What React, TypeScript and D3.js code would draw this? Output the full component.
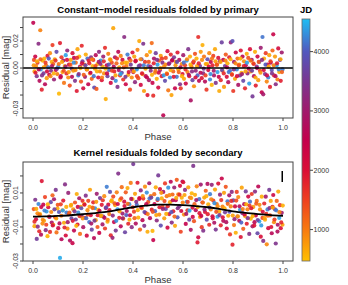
import React from "react";
import * as d3 from "d3";

const phaseTicks = [0, 0.2, 0.4, 0.6, 0.8, 1.0];
const topResidTicks = [-0.03, -0.02, -0.01, 0, 0.01, 0.02, 0.03];
const topResidLabels = [0.02, 0, -0.03];
const botResidTicks = [-0.03, -0.02, -0.01, 0, 0.01, 0.02];
const botResidLabels = [0.01, -0.01, -0.03];
const jdTicks = [1000, 2000, 3000, 4000];

// colour ramp used for JD (bar + points)
const jdStops = [470, 1000, 1500, 2000, 2500, 3000, 3500, 4000, 4550];
const jdColors = ["#FFC000", "#F77A10", "#EE4020", "#DA0E36", "#C4004C", "#A01A6C", "#7A3690", "#5258BE", "#1EBEF4"];

// primary fold: phase (x0.001), residual (x1e-4 mag), JD
const primPhase = [
  1, 4, 6, 9, 12, 15, 18, 22, 26, 29, 31, 35, 38,
  42, 45, 48, 52, 55, 58, 61, 65, 68, 72, 75, 78,
  81, 84, 87, 91, 94, 97, 101, 104, 108, 111, 114, 118,
  121, 124, 127, 131, 134, 137, 141, 144, 147, 151, 155, 158,
  161, 164, 168, 171, 175, 178, 181, 185, 188, 192, 195, 198,
  201, 205, 208, 211, 215, 218, 221, 225, 228, 232, 235, 238,
  241, 245, 248, 251, 254, 258, 261, 264, 268, 271, 275, 278,
  281, 284, 288, 291, 295, 298, 301, 304, 308, 311, 315, 318,
  321, 325, 328, 331, 334, 338, 341, 345, 348, 351, 355, 358,
  361, 365, 368, 371, 374, 378, 381, 385, 388, 391, 395, 398,
  401, 405, 408, 411, 415, 418, 421, 425, 428, 431, 434, 438,
  441, 444, 448, 451, 455, 458, 461, 464, 468, 471, 475, 478,
  481, 484, 488, 491, 495, 498, 501, 504, 508, 511, 515, 518,
  521, 524, 528, 531, 535, 538, 541, 545, 548, 551, 554, 558,
  561, 564, 568, 571, 575, 578, 581, 585, 588, 591, 595, 598,
  601, 604, 608, 611, 615, 618, 621, 625, 628, 631, 634, 638,
  641, 644, 648, 651, 654, 658, 661, 664, 668, 671, 675, 678,
  681, 684, 688, 691, 694, 698, 701, 705, 708, 711, 715, 718,
  721, 724, 728, 731, 735, 738, 741, 745, 748, 751, 755, 758,
  761, 764, 768, 771, 775, 778, 781, 785, 788, 791, 795, 798,
  801, 804, 808, 811, 815, 818, 821, 825, 828, 831, 834, 838,
  841, 844, 848, 851, 855, 858, 861, 865, 868, 871, 875, 878,
  881, 884, 888, 891, 895, 898, 901, 905, 908, 911, 915, 918,
  921, 924, 928, 931, 935, 938, 941, 945, 948, 951, 955, 958,
  961, 964, 968, 971, 975, 978, 981, 985, 988, 991, 995, 998,
  // dense core
  3, 10, 16, 23, 30, 36, 43, 50, 56, 63,
  70, 76, 83, 90, 96, 103, 110, 116, 123, 130,
  136, 143, 150, 156, 163, 170, 176, 183, 190, 196,
  203, 210, 216, 223, 230, 236, 243, 250, 256, 263,
  270, 276, 283, 290, 296, 303, 310, 316, 323, 330,
  336, 343, 350, 356, 363, 370, 376, 383, 390, 396,
  403, 410, 416, 423, 430, 436, 443, 450, 456, 463,
  470, 476, 483, 490, 496, 503, 510, 516, 523, 530,
  536, 543, 550, 556, 563, 570, 576, 583, 590, 596,
  603, 610, 616, 623, 630, 636, 643, 650, 656, 663,
  670, 676, 683, 690, 696, 703, 710, 716, 723, 730,
  736, 743, 750, 756, 763, 770, 776, 783, 790, 796,
  803, 810, 816, 823, 830, 836, 843, 850, 856, 863,
  870, 876, 883, 890, 896, 903, 910, 916, 923, 930,
  936, 943, 950, 956, 963, 970, 976, 983, 990, 996,
];
const primResid = [
  335, 60, -25, 85, 15, -60, 40, 180, -95, 280, -10, -160, 55,
  -40, 70, -120, 20, -75, 90, 5, -50, 110, -20, 45, 170,
  30, -85, 65, -15, 120, -45, 10, -190, 185, -60, 80, -30,
  55, -110, 15, 95, -40, 130, -70, 25, -130, 60, -5, 110,
  -20, 75, -95, 40, -170, 140, -55, 85, 10, -100, 165, 50,
  -150, 25, -65, 100, -10, 70, -120, 35, -40, 80, -80, 15,
  60, -145, -5, 95, -155, 30, -70, 120, -25, 55, -90, 10,
  85, -40, 150, -230, 20, -60, 105, -15, 65, -110, 40, -75,
  295, -25, 80, -95, 35, -140, 120, 5, -55, 90, -35, 60,
  -85, 230, 40, -120, 15, 100, -50, 70, -160, 25, -70, 115,
  -30, 85, -105, 55, -10, 135, -75, 200, 20, -125, 65, -45,
  180, -170, 45, -60, 95, -200, 15, -90, 120, -20, 185, -110,
  -205, 70, -35, 110, -80, 25, -145, 55, -15, 90, -60, 40,
  -350, 10, -95, 75, -40, 125, -165, 35, -70, 100, -200, 60,
  -25, 80, -150, 45, -65, 115, -10, 60, -120, -150, 30, -45,
  95, -80, 20, -115, 55, -30, 140, -60, 85, -240, 10, -90,
  40, -135, 105, -20, 70, -55, 230, -95, 15, 120, -75, 170,
  -40, 85, -100, 30, -160, 65, -15, 110, -85, 45, -125, 20,
  90, -55, 140, -110, 25, -30, 75, -170, 50, -90, 190, -20,
  60, -140, 15, 100, -65, 35, -105, 80, -20, 190, -45, 200,
  -170, 45, -80, 115, -10, 70, -125, 25, -55, 130, -35, 85,
  -95, 50, -150, 20, 105, -40, 75, -115, 140, -25, 60, -210,
  35, -60, 120, -130, 10, 85, -90, 45, -20, 150, -180, 230,
  -195, 70, -45, 110, -100, 25, -70, 95, -140, 40, -15, 130,
  250, -55, 85, -120, 20, -85, 145, -30, 60, -95, 115, -10,
  // dense core
  20, -35, 50, -10, 65, -55, 5, 40, -25, 70,
  -60, 15, -40, 55, -5, 30, -70, 45, -20, 10,
  60, -30, 25, -65, 40, -15, 75, -45, 0, 35,
  -50, 20, -10, 55, -35, 65, -60, 15, -25, 45,
  30, -70, 50, -5, -40, 25, 60, -20, 10, -55,
  70, -15, -45, 35, 5, -65, 40, -30, 55, -10,
  -25, 50, -60, 15, 65, -40, 20, -5, -70, 45,
  10, -50, 35, -20, 60, -35, 0, 70, -55, 25,
  -45, 30, -15, 55, -65, 20, 45, -30, 5, -60,
  40, -10, 65, -50, 25, -25, 50, -70, 15, 35,
  -35, 60, -5, -55, 30, 10, -45, 70, -20, 50,
  25, -65, 45, -15, -40, 55, 5, -30, 65, -50,
  -10, 35, -60, 20, 70, -45, 15, -25, 40, -5,
  55, -20, 30, -70, 0, 45, -35, 60, -15, 25,
  -55, 10, 50, -40, 20, -60, 35, -10, 65, -30,
];
const primJD = [
  2550, 1450, 700, 2350, 880, 3450, 1650, 3300, 2700, 950, 4350, 1800, 620,
  3600, 560, 2650, 1100, 760, 1950, 4200, 2450, 880, 3350, 640, 1550,
  1250, 3100, 690, 2200, 3800, 980, 4300, 540, 1850, 2750, 1600, 720,
  2950, 1050, 610, 4400, 1700, 3200, 870, 2300, 1400, 660, 3650, 2050,
  780, 2600, 3450, 1150, 1900, 700, 4250, 590, 2850, 1350, 1750, 3550,
  2150, 940, 3000, 630, 1500, 4100, 2500, 1800, 760, 3350, 1200, 560,
  1600, 3800, 720, 2700, 1300, 590, 2050, 3250, 880, 4350, 1950, 640,
  3050, 840, 1700, 620, 2450, 3650, 1000, 4150, 560, 2250, 1450, 3100,
  680, 1850, 2900, 4300, 1200, 3400, 2600, 720, 1550, 950, 3800, 2150,
  1650, 3300, 590, 2350, 1050, 4200, 760, 2750, 1450, 3550, 880, 2050,
  2650, 700, 3250, 1800, 4350, 950, 1350, 650, 2950, 2200, 3700, 820,
  3450, 740, 1600, 2550, 880, 1950, 4050, 2900, 610, 3300, 1150, 2400,
  1700, 2800, 980, 3600, 620, 4400, 2200, 1300, 3050, 760, 1900, 3350,
  2600, 880, 3800, 1450, 590, 2150, 1050, 3250, 4300, 1750, 700, 2900,
  1250, 3500, 2450, 720, 4150, 1900, 640, 2750, 3350, 1600, 900, 2050,
  3000, 680, 1550, 2300, 4350, 960, 3450, 1800, 620, 2850, 1100, 3700,
  2250, 840, 1400, 3150, 580, 4050, 1700, 2600, 3550, 760, 1950, 600,
  3300, 1050, 2700, 700, 1600, 3850, 2150, 900, 4250, 2450, 560, 1850,
  1500, 2900, 660, 3450, 1150, 4400, 2000, 640, 3100, 1750, 3650, 880,
  2550, 780, 3550, 1300, 2100, 600, 2750, 1850, 4150, 3200, 980, 3900,
  1600, 3000, 690, 2350, 4300, 1100, 2850, 720, 3450, 1950, 560, 2600,
  3750, 820, 1750, 2450, 640, 3200, 1350, 4400, 2050, 900, 2950, 3550,
  1050, 2700, 600, 1850, 3600, 2250, 760, 4100, 1450, 3050, 2500, 4150,
  2950, 660, 3400, 1550, 920, 2100, 4250, 700, 1800, 2650, 3850, 1200,
  2400, 1650, 740, 3300, 4450, 980, 2150, 600, 3550, 1850, 3000, 4200,
  // dense core
  800, 1900, 650, 2600, 1200, 3400, 720, 1550, 2200, 4000,
  950, 2850, 600, 1700, 3600, 1100, 2400, 680, 1400, 3100,
  2000, 760, 1300, 2700, 4300, 880, 1650, 3300, 590, 2150,
  1250, 3700, 700, 1850, 2500, 980, 4150, 1450, 620, 2900,
  3200, 1000, 1750, 560, 2350, 3850, 840, 1550, 2650, 700,
  1600, 2800, 4400, 900, 1300, 3500, 620, 2050, 1150, 3000,
  740, 2300, 1500, 3650, 860, 1900, 4200, 640, 2550, 1350,
  2950, 600, 1800, 1100, 3400, 2250, 760, 1600, 4350, 900,
  1450, 3100, 680, 2450, 1950, 820, 3750, 1200, 2700, 580,
  4100, 1700, 920, 2850, 600, 3300, 1400, 2100, 700, 1850,
  2600, 860, 3550, 1500, 640, 2000, 4300, 1050, 2950, 760,
  1300, 2400, 700, 3800, 1750, 950, 2650, 4150, 600, 1600,
  3350, 900, 2200, 1450, 580, 3000, 1850, 720, 4400, 2500,
  1100, 3650, 1650, 660, 2800, 1350, 800, 3250, 2100, 4000,
  2300, 620, 1550, 3450, 980, 2750, 1900, 4250, 700, 1250,
];

// secondary fold: phase (x0.001), residual (x1e-4 mag), JD
const secPhase = [
  3, 6, 9, 12, 15, 18, 22, 25, 28, 32, 35, 38,
  41, 44, 48, 51, 54, 58, 61, 64, 68, 71, 75, 78,
  81, 84, 88, 91, 94, 98, 101, 104, 108, 111, 114, 118,
  121, 124, 128, 131, 134, 138, 141, 144, 148, 151, 154, 158,
  161, 164, 168, 171, 175, 178, 181, 185, 188, 191, 195, 198,
  201, 205, 208, 211, 215, 218, 221, 225, 228, 231, 235, 238,
  241, 244, 248, 251, 255, 258, 261, 265, 268, 271, 275, 278,
  281, 285, 288, 291, 295, 298, 301, 305, 308, 311, 315, 318,
  321, 324, 328, 331, 335, 338, 341, 345, 348, 351, 355, 358,
  361, 365, 368, 371, 375, 378, 381, 385, 388, 391, 395, 398,
  401, 404, 408, 411, 415, 418, 421, 425, 428, 431, 435, 438,
  441, 445, 448, 451, 455, 458, 461, 465, 468, 471, 475, 478,
  481, 485, 488, 491, 495, 498, 501, 505, 508, 511, 515, 518,
  521, 525, 528, 531, 535, 538, 541, 545, 548, 551, 555, 558,
  561, 565, 568, 571, 575, 578, 581, 585, 588, 591, 595, 598,
  601, 604, 608, 611, 615, 618, 621, 625, 628, 631, 635, 638,
  641, 644, 648, 651, 655, 658, 661, 665, 668, 671, 675, 678,
  681, 685, 688, 691, 695, 698, 701, 705, 708, 711, 715, 718,
  721, 725, 728, 731, 735, 738, 741, 745, 748, 751, 755, 758,
  761, 764, 768, 771, 775, 778, 781, 785, 788, 791, 795, 798,
  801, 804, 808, 811, 815, 818, 821, 825, 828, 831, 835, 838,
  841, 845, 848, 851, 855, 858, 861, 865, 868, 871, 875, 878,
  881, 885, 888, 891, 895, 898, 901, 905, 908, 911, 915, 918,
  921, 925, 928, 931, 935, 938, 941, 945, 948, 951, 955, 958,
  961, 964, 968, 971, 975, 978, 981, 985, 988, 991, 995, 998,
  // dense core
  6, 13, 19, 26, 33, 39, 46, 53, 59, 66,
  73, 79, 86, 93, 99, 106, 113, 119, 126, 133,
  139, 146, 153, 159, 166, 173, 179, 186, 193, 199,
  206, 213, 219, 226, 233, 239, 246, 253, 259, 266,
  273, 279, 286, 293, 299, 306, 313, 319, 326, 333,
  339, 346, 353, 359, 366, 373, 379, 386, 393, 399,
  406, 413, 419, 426, 433, 439, 446, 453, 459, 466,
  473, 479, 486, 493, 499, 506, 513, 519, 526, 533,
  539, 546, 553, 559, 566, 573, 579, 586, 593, 599,
  606, 613, 619, 626, 633, 639, 646, 653, 659, 666,
  673, 679, 686, 693, 699, 706, 713, 719, 726, 733,
  739, 746, 753, 759, 766, 773, 779, 786, 793, 799,
  806, 813, 819, 826, 833, 839, 846, 853, 859, 866,
  873, 879, 886, 893, 899, 906, 913, 919, 926, 933,
  939, 946, 953, 959, 966, 973, 979, 986, 993, 999,
];
const secResid = [
  5, -95, 60, -55, -170, -20, 35, -125, -25, -145, 170, -80,
  31, -64, 76, -119, -9, -154, 16, -39, -129, 46, -74, 86,
  -87, 63, -42, 118, -132, 8, -107, -12, -282, 33, -172, -2,
  55, -75, 150, -150, -15, -110, 100, -25, -180, 25, -50, -195,
  4, -121, 44, -56, 94, -86, -16, 69, -141, 19, -36, 54,
  -101, 34, -46, 84, -151, -1, 54, -71, 119, -31, -116, 14,
  45, -165, 10, -60, 95, -100, 0, -135, 70, -35, 30, -85,
  -39, 81, -109, 11, 136, -69, 31, -24, 106, -149, 56, -164,
  79, -71, 29, -121, 104, 4, 214, -46, 59, -96, 134, -21,
  -51, 49, -131, 104, -6, 129, -81, 34, -31, 159, -101, 64,
  270, -10, 95, -80, 30, 160, -45, 65, -115, 115, 10, -60,
  67, -93, 137, -18, 102, -128, 47, 157, -48, 82, 2, -123,
  -177, 93, -7, 133, -62, 58, 203, -27, 123, -92, 68, 18,
  106, -49, 156, 6, 81, -104, 131, -24, 46, 166, -74, 91,
  -8, 132, -93, 57, 177, -43, 92, 22, 142, -128, 72, 167,
  163, -27, 118, -82, 48, -2, 133, -57, 73, -117, 98, 13,
  259, -66, 89, -1, 139, -191, -161, 64, -41, 149, -101, 44,
  -122, 73, -12, 113, -57, 153, 33, -87, 93, 3, 148, -37,
  55, -75, 120, -115, 35, -40, 155, -10, 90, -90, 185, 20,
  -64, 101, -14, 136, -109, 51, -34, 86, -144, 21, 106, -204,
  56, -89, 21, -134, 106, -39, 76, -64, 1, -159, 131, -19,
  -111, 34, -36, 109, -81, 4, 79, -141, 49, -51, 94, -96,
  18, -92, 108, -32, 53, -137, 138, -67, 3, -157, 78, -47,
  -182, 38, -57, 78, -202, 3, -107, 118, -32, 53, -137, 18,
  88, -72, 3, -197, 53, -127, 108, -47, 28, -107, -17, -87,
  // dense core
  -69, 6, -98, -28, 17, -58, -3, -87, 33, -41,
  -12, -91, 4, -50, 30, -79, -34, -3, -103, 18,
  -72, -16, 30, -64, -8, -93, 18, -36, 10, -50,
  31, -48, -27, 19, -80, 11, -63, 48, -31, -5,
  -34, 57, -46, 15, -58, -1, 51, -33, 39, -64,
  35, -8, 69, -49, 23, -30, 36, -57, 65, 16,
  -48, 48, -1, 70, 16, 82, -12, 34, -24, 67,
  73, -11, 34, -30, 65, 16, 101, 6, 52, -23,
  22, 87, -13, 57, -39, 71, 10, 90, -6, 44,
  88, -23, 47, -4, 70, -41, 34, 58, 17, -19,
  -35, 44, 3, 81, -25, 14, 63, -49, 40, -11,
  22, -30, 58, -43, 10, -72, 36, -10, 53, -33,
  -54, 55, -37, 22, -74, 5, -26, 33, -48, 26,
  10, -36, -72, 37, -59, 30, -91, -11, -47, -23,
  -34, 11, -100, 14, -56, -2, -87, -13, -73, 26,
];
const secJD = [
  1300, 650, 3450, 2200, 3600, 900, 4250, 1750, 620, 2700, 1950, 880,
  2500, 760, 1500, 3300, 4350, 600, 2050, 960, 1700, 3800, 2850, 1200,
  700, 2950, 1800, 3500, 1100, 620, 2300, 3950, 4450, 1550, 2650, 880,
  1900, 640, 3350, 2100, 4200, 900, 3150, 1450, 2750, 580, 3700, 2400,
  820, 2550, 1350, 3600, 640, 1950, 4300, 2950, 1100, 700, 3250, 1700,
  2850, 600, 1650, 3400, 2250, 900, 1450, 4150, 720, 2050, 3700, 1200,
  1800, 2650, 4300, 700, 3050, 1300, 600, 2400, 3550, 950, 1900, 2900,
  3300, 880, 1550, 2750, 4200, 640, 2150, 1050, 3850, 1750, 620, 3100,
  1450, 2400, 720, 3500, 960, 4350, 3400, 1850, 600, 2650, 1150, 3050,
  880, 2150, 3700, 1300, 2900, 650, 1750, 4250, 2450, 1000, 3300, 590,
  3550, 1550, 720, 2750, 4100, 1900, 600, 2350, 1200, 3200, 940, 2600,
  1650, 3400, 850, 2250, 4300, 620, 1400, 3000, 2700, 980, 1850, 560,
  2500, 1150, 4050, 660, 3250, 1750, 3550, 900, 2050, 3850, 600, 1400,
  2900, 720, 1600, 3650, 1050, 2250, 4300, 1900, 640, 2600, 3350, 1200,
  1850, 3100, 660, 2400, 1300, 4000, 940, 3550, 2100, 1500, 620, 2750,
  1950, 900, 3300, 2500, 4350, 1650, 720, 3750, 1100, 2850, 560, 2100,
  3450, 1350, 620, 2650, 950, 1900, 2250, 4150, 780, 3000, 1600, 2350,
  3400, 700, 2000, 1250, 3800, 2750, 600, 1700, 4200, 950, 3150, 2250,
  1550, 2850, 700, 3500, 1100, 4350, 2000, 620, 3150, 1800, 2400, 950,
  2650, 720, 3600, 1350, 2050, 4150, 600, 2900, 1600, 950, 3300, 1800,
  3800, 1050, 2300, 600, 1500, 3150, 900, 2600, 4300, 1950, 700, 3450,
  1250, 2750, 640, 3600, 1850, 980, 2250, 3350, 4100, 580, 1600, 2950,
  720, 1950, 3300, 2450, 1150, 3750, 2600, 4400, 860, 2050, 600, 1500,
  3350, 1750, 620, 2950, 900, 4200, 2200, 3550, 1400, 700, 2650, 1950,
  2300, 880, 3600, 3450, 1200, 2750, 650, 4450, 1650, 2050, 3000, 720,
  // dense core
  1700, 650, 3300, 1100, 2400, 880, 4200, 1500, 600, 2800,
  900, 2150, 3600, 740, 1350, 2650, 1000, 4400, 1800, 620,
  3000, 1250, 700, 1950, 3450, 560, 2300, 1600, 3900, 850,
  2050, 4100, 1400, 680, 2900, 1150, 3500, 760, 1850, 2450,
  620, 1650, 2700, 3800, 950, 2000, 600, 3250, 1300, 4300,
  2350, 780, 1500, 3050, 2050, 4000, 1100, 650, 2750, 1600,
  1200, 3400, 640, 2200, 1750, 880, 3700, 2450, 1000, 4150,
  3600, 1350, 2550, 700, 4250, 1900, 820, 3100, 1450, 600,
  1800, 900, 3950, 2600, 1150, 660, 3350, 1700, 2250, 960,
  700, 2900, 1550, 4450, 800, 2350, 1250, 3000, 640, 1950,
  2500, 1050, 3250, 620, 1850, 3750, 940, 2150, 4300, 1400,
  860, 3550, 1650, 2050, 640, 2800, 1200, 3900, 1750, 720,
  3150, 1450, 740, 2700, 4050, 1000, 2300, 600, 3450, 1550,
  1950, 600, 2600, 1300, 3650, 880, 4350, 2100, 720, 1700,
  1150, 3300, 2000, 680, 1550, 4200, 2850, 960, 1800, 600,
];

// kernel smooth through the secondary fold (x1e-4 mag)
const kernPhase = [0, 0.05, 0.1, 0.15, 0.2, 0.25, 0.3, 0.35, 0.4, 0.45, 0.5, 0.55, 0.6, 0.65, 0.7, 0.75, 0.8, 0.85, 0.9, 0.95, 1.0];
const kernResid = [-39, -38, -35, -31, -25, -18, -10, 3, 16, 25, 31, 32, 29, 23, 16, 5, -8, -17, -24, -30, -34];

// typical error bar (x1e-4 mag)
const errPhase = [0.997];
const errLow = [165];
const errHigh = [229];

const font = "'Liberation Sans', Arial, Helvetica, sans-serif";
const plotL = 23;
const plotR = 293;

const x = d3.scaleLinear().domain([-0.04, 1.04]).range([plotL, plotR]);
const color = d3.scaleLinear<string>().domain(jdStops).range(jdColors).interpolate(d3.interpolateRgb);
const jdScale = d3.scaleLinear().domain([470, 4550]).range([261, 19]);

const fmt = (v: number) => (Math.abs(v) < 1e-9 ? "0.00" : d3.format(".2f")(v).replace("−", "-"));

type PanelProps = {
  id: string;
  title: string;
  titleY: number;
  top: number;
  bottom: number;
  domain: [number, number];
  ticks: number[];
  labels: number[];
  phase: number[];
  resid: number[];
  jd: number[];
  extra: (y: d3.ScaleLinear<number, number>) => React.ReactNode;
};

const Panel = ({ id, title, titleY, top, bottom, domain, ticks, labels, phase, resid, jd, extra }: PanelProps) => {
  const y = d3.scaleLinear().domain(domain).range([bottom, top]);
  const midY = (top + bottom) / 2;
  return (
    <g>
      <text x={(plotL + plotR) / 2} y={titleY} textAnchor="middle" fontWeight="bold" fontSize={9.5}>
        {title}
      </text>
      <clipPath id={id}>
        <rect x={plotL} y={top} width={plotR - plotL} height={bottom - top} />
      </clipPath>
      <g clipPath={`url(#${id})`}>
        {phase.map((p, i) => (
          <circle key={i} cx={x(p / 1000)} cy={y(resid[i] / 10000)} r={2.1} fill={color(jd[i])} fillOpacity={0.9} />
        ))}
        {extra(y)}
      </g>
      <rect x={plotL} y={top} width={plotR - plotL} height={bottom - top} fill="none" stroke="#444" strokeWidth={1} />
      {phaseTicks.map((t) => (
        <g key={t}>
          <line x1={x(t)} x2={x(t)} y1={bottom} y2={bottom + 3} stroke="#444" />
          <text x={x(t)} y={bottom + 12} textAnchor="middle" fontSize={7} fill="#333">
            {t.toFixed(1)}
          </text>
        </g>
      ))}
      {ticks.map((t) => (
        <line key={t} x1={plotL - 3} x2={plotL} y1={y(t)} y2={y(t)} stroke="#444" />
      ))}
      {labels.map((t) => (
        <text key={t} transform={`translate(${plotL - 5},${y(t)}) rotate(-90)`} textAnchor="middle" fontSize={7} fill="#333">
          {fmt(t)}
        </text>
      ))}
      <text x={(plotL + plotR) / 2} y={bottom + 22} textAnchor="middle" fontSize={9.5} fill="#333">
        Phase
      </text>
      <text transform={`translate(9,${midY}) rotate(-90)`} textAnchor="middle" fontSize={9.5} fill="#333">
        Residual [mag]
      </text>
    </g>
  );
};

const App = () => {
  const kernLine = (y: d3.ScaleLinear<number, number>) =>
    d3
      .line<number>()
      .x((p) => x(p))
      .y((_, i) => y(kernResid[i] / 10000))
      .curve(d3.curveMonotoneX)(kernPhase) || "";

  return (
    <div style={{ position: "absolute", left: 0, top: 0 }}>
      <svg width={348} height={285} style={{ display: "block", fontFamily: font }}>
        <defs>
          <linearGradient id="jdgrad" x1="0" x2="0" y1="1" y2="0">
            {jdStops.map((s, i) => (
              <stop key={s} offset={(s - 470) / (4550 - 470)} stopColor={jdColors[i]} />
            ))}
          </linearGradient>
        </defs>
        <Panel
          id="clipTop"
          title="Constant−model residuals folded by primary"
          titleY={13}
          top={17}
          bottom={118}
          domain={[-0.037, 0.0378]}
          ticks={topResidTicks}
          labels={topResidLabels}
          phase={primPhase}
          resid={primResid}
          jd={primJD}
          extra={(y) => <line x1={plotL} x2={plotR} y1={y(0)} y2={y(0)} stroke="#000" strokeWidth={1.5} />}
        />
        <Panel
          id="clipBot"
          title="Kernel residuals folded by secondary"
          titleY={156}
          top={162}
          bottom={261}
          domain={[-0.03, 0.0282]}
          ticks={botResidTicks}
          labels={botResidLabels}
          phase={secPhase}
          resid={secResid}
          jd={secJD}
          extra={(y) => (
            <g>
              <path d={kernLine(y)} fill="none" stroke="#000" strokeWidth={1.8} />
              {errPhase.map((p, i) => (
                <line key={i} x1={x(p)} x2={x(p)} y1={y(errLow[i] / 10000)} y2={y(errHigh[i] / 10000)} stroke="#000" strokeWidth={1.5} />
              ))}
            </g>
          )}
        />
        <text x={306} y={13} textAnchor="middle" fontWeight="bold" fontSize={9.5}>
          JD
        </text>
        <rect x={302} y={19} width={8} height={242} fill="url(#jdgrad)" stroke="#666" strokeWidth={0.8} />
        {jdTicks.map((t) => (
          <g key={t}>
            <line x1={310} x2={313} y1={jdScale(t)} y2={jdScale(t)} stroke="#444" />
            <text x={313.5} y={jdScale(t) + 2.5} fontSize={7} fill="#333">
              {t}
            </text>
          </g>
        ))}
      </svg>
    </div>
  );
};

export default App;
